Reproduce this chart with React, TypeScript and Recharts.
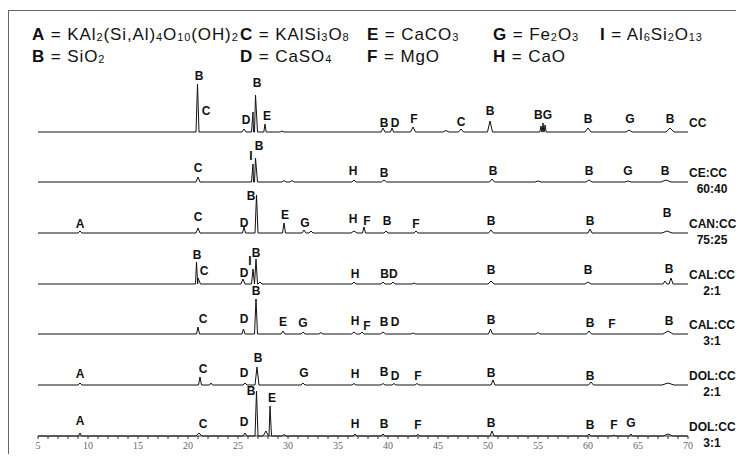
import { ComposedChart, Line, Scatter, XAxis, YAxis } from 'recharts';

// 2-theta axis
const MAJOR_TICKS = [5, 10, 15, 20, 25, 30, 35, 40, 45, 50, 55, 60, 65, 70];
const ALL_TICKS = Array.from({ length: 66 }, (_, i) => 5 + i);

// peaks: [2theta, height, half width]  labels: [text, 2theta, height above baseline]
const ccPeaks = [[20.95, 48, 0.15], [25.6, 3, 0.2], [26.5, 20, 0.15], [26.75, 37, 0.2], [27.7, 8, 0.12], [29.4, 1, 0.2], [39.5, 4, 0.2], [40.4, 4, 0.15], [42.5, 5, 0.25], [45.8, 1.5, 0.3], [47.3, 3, 0.25], [50.2, 11, 0.25], [55.3, 6, 0.12], [55.5, 9, 0.12], [55.7, 7, 0.12], [60.0, 4, 0.3], [64.1, 2, 0.3], [68.2, 4, 0.4]];
const ccLabels = [['B', 21.1, 52], ['C', 21.8, 17], ['D', 25.8, 8], ['B', 26.9, 45], ['E', 27.9, 12], ['B', 39.6, 5], ['D', 40.7, 5], ['F', 42.6, 9], ['C', 47.3, 6], ['B', 50.2, 17], ['BG', 55.5, 13], ['B', 60.0, 9], ['G', 64.2, 9], ['B', 68.2, 9]];

const ceccPeaks = [[21.0, 5, 0.2], [26.5, 18, 0.15], [26.75, 24, 0.2], [29.6, 1.5, 0.2], [30.4, 1.5, 0.2], [36.6, 2, 0.2], [39.6, 2, 0.25], [50.4, 3, 0.25], [55.0, 1, 0.3], [60.1, 2, 0.3], [64.0, 1, 0.3], [67.8, 2, 0.5]];
const ceccLabels = [['C', 21.0, 10], ['I', 26.3, 22], ['B', 27.1, 32], ['H', 36.5, 7], ['B', 39.6, 5], ['B', 50.5, 7], ['B', 60.1, 7], ['G', 64.0, 7], ['B', 67.7, 7]];

const canccPeaks = [[9.2, 2, 0.2], [21.0, 5, 0.2], [25.6, 6, 0.15], [26.85, 38, 0.15], [29.6, 10, 0.15], [31.6, 3, 0.2], [32.3, 2, 0.2], [36.6, 2, 0.3], [37.6, 6, 0.15], [39.8, 2, 0.2], [42.8, 2, 0.2], [50.3, 3, 0.25], [60.2, 4, 0.2], [67.9, 2, 0.5]];
const canccLabels = [['A', 9.2, 5], ['C', 21.0, 12], ['D', 25.6, 6], ['B', 26.3, 33], ['E', 29.7, 14], ['G', 31.7, 6], ['H', 36.5, 10], ['F', 37.9, 8], ['B', 39.9, 8], ['F', 42.8, 5], ['B', 50.3, 8], ['B', 60.2, 8], ['B', 67.9, 16]];

const cal21Peaks = [[20.85, 22, 0.12], [21.0, 6, 0.25], [25.5, 5, 0.2], [26.5, 15, 0.15], [26.8, 25, 0.15], [27.2, 2, 0.2], [36.6, 2, 0.2], [39.5, 2, 0.2], [40.5, 2, 0.2], [42.6, 1, 0.2], [50.3, 3, 0.3], [60.0, 2, 0.3], [67.7, 3, 0.2], [68.3, 6, 0.2]];
const cal21Labels = [['B', 20.9, 25], ['C', 21.6, 9], ['D', 25.6, 7], ['I', 26.2, 19], ['B', 26.8, 27], ['H', 36.7, 6], ['BD', 40.1, 6], ['B', 50.3, 10], ['B', 60.0, 10], ['B', 68.1, 11]];

const cal31Peaks = [[21.0, 7, 0.15], [25.55, 5, 0.15], [26.8, 35, 0.15], [29.5, 3, 0.2], [31.5, 2, 0.2], [33.3, 1.5, 0.2], [36.6, 2, 0.25], [37.4, 2, 0.2], [39.5, 2, 0.25], [42.5, 1, 0.2], [50.25, 5, 0.2], [55.0, 1.5, 0.2], [60.1, 3, 0.25], [68.0, 3, 0.5]];
const cal31Labels = [['C', 21.5, 11], ['D', 25.6, 11], ['B', 26.8, 39], ['E', 29.5, 8], ['G', 31.5, 7], ['H', 36.7, 9], ['F', 37.9, 4], ['B', 39.6, 8], ['D', 40.7, 8], ['B', 50.3, 10], ['B', 60.2, 7], ['F', 62.4, 6], ['B', 68.1, 9]];

const dol21Peaks = [[9.2, 2, 0.2], [21.2, 8, 0.15], [22.3, 2, 0.15], [25.7, 2, 0.2], [26.9, 18, 0.2], [31.5, 2, 0.2], [36.6, 1.5, 0.2], [39.5, 1.5, 0.2], [40.6, 1.5, 0.2], [42.9, 1.5, 0.2], [50.5, 5, 0.2], [60.3, 3, 0.25], [68.0, 2, 0.6]];
const dol21Labels = [['A', 9.2, 7], ['C', 21.5, 12], ['D', 25.6, 8], ['B', 27.0, 23], ['G', 31.6, 8], ['H', 36.7, 7], ['B', 39.6, 9], ['D', 40.7, 5], ['F', 43.0, 5], ['B', 50.3, 8], ['B', 60.2, 5]];

const dol31Peaks = [[9.2, 3, 0.15], [21.1, 3, 0.3], [25.7, 3, 0.2], [26.85, 45, 0.15], [27.8, 5, 0.3], [28.2, 30, 0.15], [29.6, 1.5, 0.2], [36.7, 2, 0.2], [39.5, 2, 0.2], [43.0, 1.5, 0.2], [50.4, 5, 0.2], [60.1, 2, 0.2], [62.6, 1, 0.2], [64.3, 2, 0.15], [68.0, 2, 0.5]];
const dol31Labels = [['A', 9.2, 11], ['C', 21.5, 8], ['D', 25.6, 10], ['B', 26.3, 41], ['E', 28.4, 34], ['H', 36.7, 8], ['B', 39.6, 8], ['F', 43.0, 7], ['B', 50.3, 9], ['B', 60.2, 7], ['F', 62.6, 7], ['G', 64.3, 9]];

// sample name, second name line, vertical offset of the trace
const samples = [
  { name: 'CC', sub: '', offset: 304, peaks: ccPeaks, labels: ccLabels },
  { name: 'CE:CC', sub: '60:40', offset: 254, peaks: ceccPeaks, labels: ceccLabels },
  { name: 'CAN:CC', sub: '75:25', offset: 203, peaks: canccPeaks, labels: canccLabels },
  { name: 'CAL:CC', sub: '2:1', offset: 152, peaks: cal21Peaks, labels: cal21Labels },
  { name: 'CAL:CC', sub: '3:1', offset: 102, peaks: cal31Peaks, labels: cal31Labels },
  { name: 'DOL:CC', sub: '2:1', offset: 51, peaks: dol21Peaks, labels: dol21Labels },
  { name: 'DOL:CC', sub: '3:1', offset: 0, peaks: dol31Peaks, labels: dol31Labels },
];

const FONT = '"Liberation Sans", Arial, sans-serif';

const buildTrace = (peaks: number[][], offset: number) => {
  const pts: { x: number; y: number }[] = [{ x: 5, y: offset }, { x: 70, y: offset }];
  peaks.forEach(([p, h, w]) => {
    pts.push({ x: p - w, y: offset }, { x: p, y: offset + h }, { x: p + w, y: offset });
  });
  return pts.sort((a, b) => a.x - b.x);
};

const peakLetters = samples.flatMap((s) =>
  s.labels.map(([text, x, h]) => ({ x: x as number, y: s.offset + (h as number), text }))
);
const nameLabels = samples.map((s) => ({ x: 70, y: s.offset + 5, name: s.name, sub: s.sub }));

const LetterShape = (props: any) => (
  <text x={props.cx} y={props.cy} textAnchor="middle" fontFamily={FONT} fontWeight="bold" fontSize={12} fill="#111">
    {props.payload.text}
  </text>
);

const NameShape = (props: any) => (
  <g fontFamily={FONT} fontWeight="bold" fontSize={12} fill="#111">
    <text x={props.cx + 1} y={props.cy}>{props.payload.name}</text>
    {props.payload.sub && (
      <text x={props.cx + 24} y={props.cy + 16} textAnchor="middle">{props.payload.sub}</text>
    )}
  </g>
);

const Sub = ({ children }: { children: string }) => (
  <span style={{ fontSize: 11, position: 'relative', top: 1 }}>{children}</span>
);

const Key = ({ left, top, letter, children }: any) => (
  <div style={{ position: 'absolute', left, top, fontSize: 17, lineHeight: '17px', whiteSpace: 'nowrap', letterSpacing: 0.9 }}>
    <b>{letter}</b> = {children}
  </div>
);

export default function App() {
  return (
    <div style={{ position: 'relative', width: 728, height: 446, fontFamily: FONT, color: '#111' }}>
      <style>{'html{overflow:hidden}'}</style>
      <div style={{ position: 'absolute', left: 0, top: 2, width: 736, height: 452, borderTop: '1.5px solid #666', borderLeft: '1.5px solid #666' }} />
      <Key left={24} top={18} letter="A">KAl<Sub>2</Sub>(Si,Al)<Sub>4</Sub>O<Sub>10</Sub>(OH)<Sub>2</Sub></Key>
      <Key left={232} top={18} letter="C">KAlSi<Sub>3</Sub>O<Sub>8</Sub></Key>
      <Key left={359} top={18} letter="E">CaCO<Sub>3</Sub></Key>
      <Key left={485} top={18} letter="G">Fe<Sub>2</Sub>O<Sub>3</Sub></Key>
      <Key left={592} top={18} letter="I">Al<Sub>6</Sub>Si<Sub>2</Sub>O<Sub>13</Sub></Key>
      <Key left={24} top={40} letter="B">SiO<Sub>2</Sub></Key>
      <Key left={232} top={40} letter="D">CaSO<Sub>4</Sub></Key>
      <Key left={359} top={40} letter="F">MgO</Key>
      <Key left={485} top={40} letter="H">CaO</Key>
      <div style={{ position: 'absolute', left: 0, top: 0 }}>
        <ComposedChart width={736} height={454} margin={{ top: 28, right: 56, bottom: 0, left: 30 }}>
          <XAxis
            type="number"
            dataKey="x"
            domain={[5, 70]}
            ticks={ALL_TICKS}
            interval={0}
            height={26}
            tickSize={3}
            tickMargin={3}
            tickFormatter={(v: number) => (MAJOR_TICKS.includes(v) ? String(v) : '')}
            tick={{ fontFamily: '"Liberation Serif", "Times New Roman", serif', fontSize: 10, fill: '#666' }}
            stroke="#333"
          />
          <YAxis type="number" dataKey="y" domain={[0, 400]} hide />
          {samples.map((s, i) => (
            <Line
              key={`trace-${i}`}
              data={buildTrace(s.peaks, s.offset)}
              dataKey="y"
              stroke="#111"
              strokeWidth={1}
              dot={false}
              isAnimationActive={false}
            />
          ))}
          <Scatter data={peakLetters} dataKey="y" shape={LetterShape} isAnimationActive={false} />
          <Scatter data={nameLabels} dataKey="y" shape={NameShape} isAnimationActive={false} />
        </ComposedChart>
      </div>
    </div>
  );
}
